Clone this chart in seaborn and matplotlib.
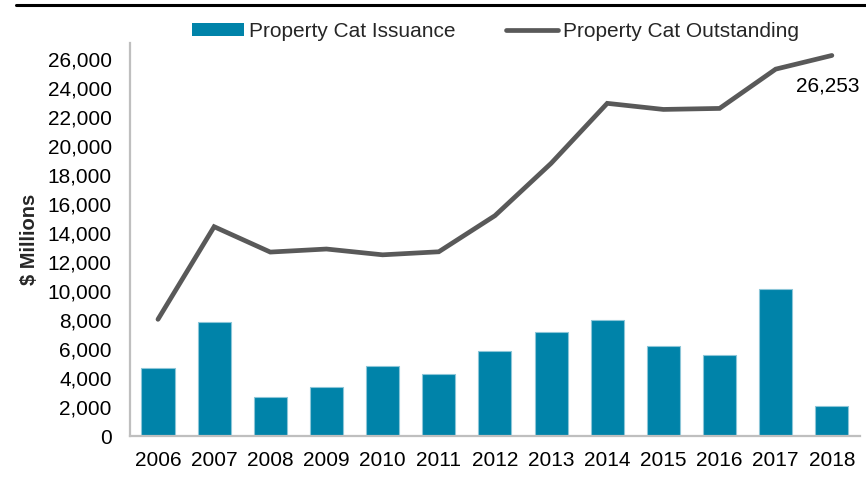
import matplotlib
matplotlib.use("Agg")
import matplotlib.pyplot as plt
from matplotlib.lines import Line2D
from matplotlib.patches import Patch
from matplotlib.ticker import FuncFormatter
import seaborn as sns
import pandas as pd

years = ["2006", "2007", "2008", "2009", "2010", "2011", "2012",
         "2013", "2014", "2015", "2016", "2017", "2018"]
issuance = [4690, 7840, 2710, 3380, 4830, 4280, 5840,
            7150, 8020, 6230, 5590, 10140, 2050]
outstanding = [8050, 14440, 12690, 12900, 12500, 12710, 15200,
               18810, 22950, 22530, 22600, 25310, 26253]
tick_values = list(range(0, 26001, 2000))

bar_color = "#0083A9"
line_color = "#595959"

df = pd.DataFrame({"year": years, "issuance": issuance, "outstanding": outstanding})

sns.set_theme(style="white")
plt.rcParams["font.family"] = ["Liberation Sans", "DejaVu Sans"]

fig = plt.figure(figsize=(8.66, 4.82), dpi=100)
ax = fig.add_axes([0.150, 0.0954, 0.843, 0.815])

sns.barplot(data=df, x="year", y="issuance", color=bar_color, saturation=1,
            width=0.59, edgecolor="#8cc6d8", linewidth=0.8, ax=ax)
sns.pointplot(data=df, x="year", y="outstanding", color=line_color,
              markers="", linestyles="-", linewidth=3.4, errorbar=None, ax=ax)
for ln in ax.lines:
    ln.set_solid_capstyle("round")
    ln.set_solid_joinstyle("miter")

ax.set_xlim(-0.5, len(years) - 0.5)
ax.set_ylim(0, 27100)
ax.set_yticks(tick_values)
ax.yaxis.set_major_formatter(FuncFormatter(lambda v, p: f"{int(v):,}"))
ax.tick_params(axis="y", length=0, pad=13, labelsize=15, colors="black")
ax.tick_params(axis="x", length=0, pad=11, labelsize=15, colors="black")
ax.set_xlabel("")
ax.set_ylabel("$ Millions", fontsize=14.5, fontweight="bold", labelpad=6)

for side in ["top", "right"]:
    ax.spines[side].set_visible(False)
for side in ["left", "bottom"]:
    ax.spines[side].set_color("#bfbfbf")
    ax.spines[side].set_linewidth(1.6)

last = len(years) - 1
ax.annotate(f"{outstanding[last]:,}", xy=(last, outstanding[last]),
            xytext=(-3, -22), textcoords="offset points",
            ha="center", va="center", fontsize=15, color="black")

handles = [Patch(facecolor=bar_color, edgecolor="none"),
           Line2D([0], [0], color=line_color, lw=3.4, solid_capstyle="round")]
fig.legend(handles, ["Property Cat Issuance", "Property Cat Outstanding"],
           loc="center", bbox_to_anchor=(0.572, 0.935), ncol=2, frameon=False,
           fontsize=15, handlelength=2.5, handleheight=0.55, handletextpad=0.25,
           columnspacing=2.4)

fig.add_artist(Line2D([0.018, 1.0], [0.989, 0.989], transform=fig.transFigure,
                      color="black", lw=2.2))

fig.savefig("out.png", dpi=100)
